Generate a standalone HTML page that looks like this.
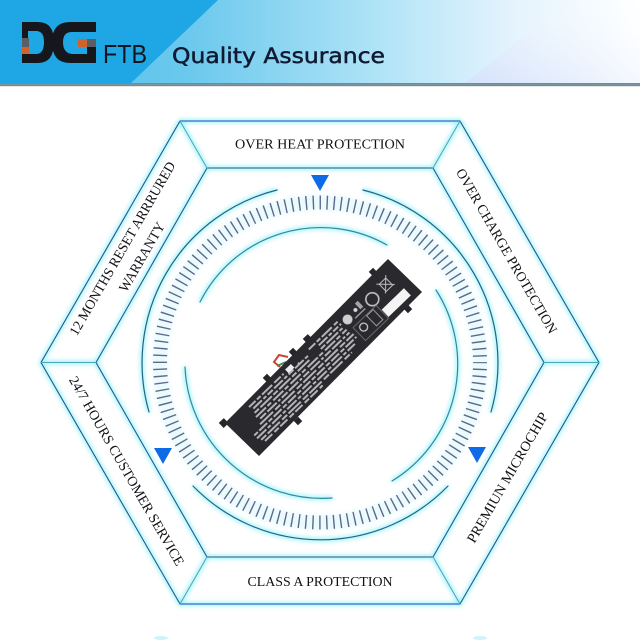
<!DOCTYPE html>
<html>
<head>
<meta charset="utf-8">
<style>
html,body{margin:0;padding:0;background:#fff;width:640px;height:640px;overflow:hidden}
svg{display:block}
text{font-family:"Liberation Serif",serif;fill:#111116;font-size:14px;text-anchor:middle}
</style>
</head>
<body>
<svg width="640" height="640" viewBox="0 0 640 640" xmlns="http://www.w3.org/2000/svg">
<defs>
<linearGradient id="hd" x1="0" x2="1" y1="0" y2="0">
<stop offset="0" stop-color="#4dbde9"/>
<stop offset=".3" stop-color="#6cc9ed"/>
<stop offset=".6" stop-color="#b2e4f7"/>
<stop offset=".8" stop-color="#e4f3fd"/>
<stop offset="1" stop-color="#ffffff"/>
</linearGradient>
<linearGradient id="lav" x1="0" x2="1" y1="1" y2="0">
<stop offset="0" stop-color="#d6e2fb"/>
<stop offset="1" stop-color="#ffffff" stop-opacity="0"/>
</linearGradient>
<filter id="gl" x="-20%" y="-20%" width="140%" height="140%"><feGaussianBlur stdDeviation="2.2"/></filter>
<filter id="sb"><feGaussianBlur stdDeviation="0.35"/></filter>
<g id="geo">
<polygon points="180,121 460,121 599,362.5 460,604 180,604 41,362.5"/>
<polygon points="207,168 433,168 544,362.5 433,557 207,557 96,362.5"/>
<path d="M180 121L207 168M460 121L433 168M599 362.5H544M460 604L433 557M180 604L207 557M41 362.5H96"/>
<path d="M277 190A178 178 0 0 0 149 412M363 190A178 178 0 0 1 491 412M193 486A178 178 0 0 0 448 486"/>
<path d="M200 302A135 135 0 0 1 387 245M436 290A137 137 0 0 1 392 481M185 367A137 137 0 0 0 332 498"/>
</g>
</defs>

<!-- header -->
<rect x="0" y="0" width="640" height="84" fill="url(#hd)"/>
<polygon points="465,83 570,0 640,0 640,83" fill="url(#lav)"/>
<polygon points="0,0 218,0 130,84 0,84" fill="#1fa6e4"/>
<rect x="0" y="83" width="640" height="1.6" fill="#4b97c4"/>
<rect x="0" y="84.6" width="640" height="1.6" fill="#94826e"/>

<!-- logo -->
<path fill="#15171d" fill-rule="evenodd" d="M22 22H38Q54 22 54 42Q54 63 38 63H22ZM28 31V54H36Q44 54 44 42Q44 31 36 31Z"/>
<rect x="22" y="38" width="7" height="9" fill="#5b5e64"/>
<rect x="22" y="47" width="7" height="7" fill="#d0632c"/>
<path fill="#15171d" d="M96 22V32H72Q63 32 63 42Q63 53 72 54H87V47H96V63H70Q52 63 52 42Q52 22 70 22Z"/>
<rect x="78" y="39" width="9" height="8" fill="#d0632c"/>
<rect x="87" y="39" width="9" height="8" fill="#5b5e64"/>
<text x="125" y="63" textLength="44" lengthAdjust="spacingAndGlyphs" style="font-family:'Liberation Sans',sans-serif;font-size:26px;fill:#12151c">FTB</text>
<text x="278.500" y="63" textLength="213" lengthAdjust="spacingAndGlyphs" style="font-family:'DejaVu Sans',sans-serif;font-size:21px;fill:#111a33;stroke:#111a33;stroke-width:.5">Quality Assurance</text>

<!-- glow -->
<g fill="none" stroke="#4fe6f5" stroke-width="4" filter="url(#gl)" opacity=".55"><use href="#geo"/></g>
<circle cx="320" cy="362.5" r="160" fill="none" stroke="#a8eef8" stroke-width="15" stroke-opacity=".25" filter="url(#gl)"/>
<ellipse cx="161" cy="638" rx="7" ry="2" fill="#cdf4f8"/>
<ellipse cx="480" cy="638" rx="7" ry="2" fill="#cdf4f8"/>

<!-- crisp lines -->
<g fill="none" stroke-linecap="round">
<g stroke="#1f5a8c" stroke-width="1.100">
<polygon points="180,121 460,121 599,362.5 460,604 180,604 41,362.5"/>
<polygon points="207,168 433,168 544,362.5 433,557 207,557 96,362.5"/>
</g>
<path stroke="#2d6fc4" stroke-width="1.200" d="M180 121H460M180 604H460"/>
<path stroke="#4aa5b4" stroke-width="1" d="M180 121L207 168M460 121L433 168M599 362.5H544M460 604L433 557M180 604L207 557M41 362.5H96"/>
<path stroke="#1f6585" stroke-width="1.200" d="M277 190A178 178 0 0 0 149 412M363 190A178 178 0 0 1 491 412M193 486A178 178 0 0 0 448 486"/>
<path stroke="#2f8a9c" stroke-width="1.200" d="M200 302A135 135 0 0 1 387 245M436 290A137 137 0 0 1 392 481M185 367A137 137 0 0 0 332 498"/>
</g>

<!-- ticks -->
<circle cx="320" cy="362.5" r="160" fill="none" stroke="#62668a" stroke-width="14" stroke-dasharray="1.400 5.581" stroke-dashoffset="0.7"/>

<!-- arrows -->
<g fill="#0f6ae6">
<polygon points="311,175 329,175 320,191"/>
<polygon points="154,448 172,448 163,464"/>
<polygon points="468,447 486,447 477,463"/>
</g>

<!-- labels -->
<text x="320" y="148.500" textLength="170" lengthAdjust="spacingAndGlyphs">OVER HEAT PROTECTION</text>
<text x="320" y="586" textLength="145" lengthAdjust="spacingAndGlyphs">CLASS A PROTECTION</text>
<text transform="translate(506.500,251) rotate(60)" y="4.500" textLength="188" lengthAdjust="spacingAndGlyphs">OVER CHARGE PROTECTION</text>
<text transform="translate(507.500,477.500) rotate(-60)" y="4.500" textLength="148" lengthAdjust="spacingAndGlyphs">PREMIUN MICROCHIP</text>
<text transform="translate(126.500,471) rotate(60)" y="4.500" textLength="216" lengthAdjust="spacingAndGlyphs">24/7 HOURS CUSTOMER SERVICE</text>
<text transform="translate(122.500,248.500) rotate(-60)" y="4.500" textLength="198" lengthAdjust="spacingAndGlyphs">12 MONTHS RESET ARRRURED</text>
<text transform="translate(142,257) rotate(-60)" y="4.500" textLength="78" lengthAdjust="spacingAndGlyphs">WARRANTY</text>

<!-- cable -->
<path d="M288 357L279 355L274 362L280 367" fill="none" stroke="#c8453a" stroke-width="2"/>
<path d="M286 362L277 366" fill="none" stroke="#3d8a55" stroke-width="2"/>
<!-- tabs -->
<g fill="#26262a">
<rect x="220" y="420" width="7" height="7" transform="rotate(-44 223 423)"/>
<rect x="264" y="375" width="6" height="6" transform="rotate(-44 267 378)"/>
<rect x="290" y="349" width="6" height="6" transform="rotate(-44 293 352)"/>
<rect x="304" y="336" width="7" height="7" transform="rotate(-44 307 339)"/>
<rect x="370" y="269" width="6" height="6" transform="rotate(-44 373 272)"/>
<rect x="405" y="306" width="6" height="6" transform="rotate(-44 408 309)"/>
<rect x="295" y="418" width="6" height="6" transform="rotate(-44 298 421)"/>
</g>
<!-- battery -->
<polygon points="388,259 422,292 259,456 225,423" fill="#2a2a2e"/>
<g transform="translate(323.500,357.500) rotate(-44)" filter="url(#sb)">
<rect x="75" y="6" width="31" height="10" fill="#f4f4f4"/>
<circle cx="75.600" cy="-8" r="6.500" fill="none" stroke="#c5c5c8" stroke-width="1.600"/>
<path d="M89 -16L102 -3M102 -16L89 -3M91 -14H100V-4H91Z" fill="none" stroke="#bdbdc0" stroke-width="1"/>
<circle cx="43.700" cy="-10.600" r="5" fill="#cfcfd0"/>
<circle cx="56" cy="-12" r="2" fill="#d5d5d5"/>
<rect x="60" y="-17" width="4" height="8" fill="#a5a5a8"/>
<rect x="50" y="-7" width="14" height="1.500" fill="#98989c"/>
<circle cx="50" cy="6" r="4" fill="none" stroke="#d0d0d0" stroke-width="1.200"/>
<rect x="60" y="0" width="9" height="14" fill="none" stroke="#9a9a9e" stroke-width="1"/>
<rect x="42" y="-1" width="32" height="18" fill="none" stroke="#77777b" stroke-width=".8"/>
<rect x="-36" y="-18" width="8" height="5" fill="#eeeeee"/>
<circle cx="-22" cy="-13" r="1" fill="#ddd"/>
<g fill="none" stroke="#b4b4b8" stroke-width="2">
<path stroke-dasharray="9 2 5 2 14 3" d="M-88 -16H-40M-5 -16H35"/>
<path stroke-dasharray="12 2 4 2 7 2" d="M-86 -12H-8M5 -12H36"/>
<path stroke-dasharray="6 2 16 2" d="M-88 -8H-12M4 -8H34"/>
<path stroke-dasharray="14 2 5 3" d="M-90 -4H36"/>
<path stroke-dasharray="8 2 13 2 3 2" d="M-88 0H36"/>
<path stroke-dasharray="18 3 7 2" d="M-92 4H38"/>
<path stroke-dasharray="5 2 11 2" d="M-104 8H38"/>
<path stroke-dasharray="13 2 4 2" d="M-104 12H32"/>
<path stroke-dasharray="7 2 17 3" d="M-102 16H24"/>
<path stroke-dasharray="10 3 6 2" d="M-100 19.500H-20"/>
</g>
</g>
</svg>
</body>
</html>
